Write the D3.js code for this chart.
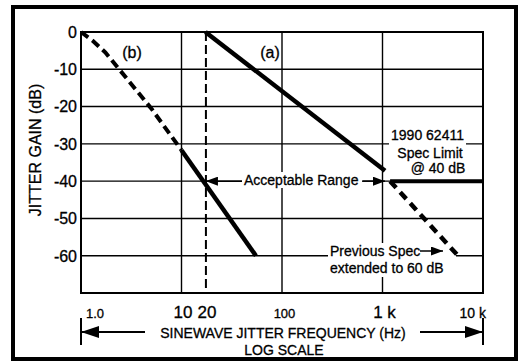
<!DOCTYPE html>
<html>
<head>
<meta charset="utf-8">
<script src="https://cdn.jsdelivr.net/npm/d3@7"></script>
<style>
  html, body { margin: 0; padding: 0; background: #fff; }
  svg { display: block; font-family: "Liberation Sans", Arial, Helvetica, sans-serif; }
  svg text { fill: #000; stroke: #000; stroke-width: 0.3px; }
</style>
</head>
<body>
<svg id="chart" width="519" height="363"></svg>
<script>
// ---------- data ----------
const yTicks = [0, -10, -20, -30, -40, -50, -60];
const yTickLabels = ["0", "-10", "-20", "-30", "-40", "-50", "-60"];
const xGridFreqs = [10, 100, 1000];
const xTickFreqs = [1, 10, 17.5, 100, 1000, 10000];
const xTickLabels = ["1.0", "10", "20", "100", "1 k", "10 k"];
const markerFreq = 17.5;           // dashed vertical marker labelled "20"

// curve (a)
const curveAFreq = [17.3, 1060];
const curveAGain = [0, -37.2];
// 1990 62411 spec limit at -40 dB
const limitFreq = [1190, 10000];
const limitGain = [-40, -40];
// previous spec, extended to 60 dB (dashed)
const prevFreq = [1190, 5640];
const prevGain = [-40, -60];
// curve (b): dashed part then solid part
const curveBDashFreq = [1, 1.3, 1.75, 5.0, 10];
const curveBDashGain = [0, -2.3, -5.5, -20.5, -31.7];
const curveBSolidFreq = [10, 55];
const curveBSolidGain = [-31.7, -60];

// ---------- setup ----------
const svg = d3.select("#chart");
const L = 81, R = 483, T = 32, B = 293;
const x = d3.scaleLog().domain([1, 10000]).range([L, R]);
const y = d3.scaleLinear().domain([0, -70]).range([T, B]);

// outer frame
svg.append("rect").attr("x", 13).attr("y", 7).attr("width", 503).attr("height", 352)
  .attr("fill", "none").attr("stroke", "#000").attr("stroke-width", 4);

// arrow marker defs
const defs = svg.append("defs");
function mk(id, len, half) {
  defs.append("marker").attr("id", id).attr("markerUnits", "userSpaceOnUse")
    .attr("viewBox", `0 ${-half} ${len} ${2*half}`).attr("refX", len).attr("refY", 0)
    .attr("markerWidth", len).attr("markerHeight", 2*half).attr("orient", "auto")
    .append("path").attr("d", `M0,${-half}L${len},0L0,${half}Z`).attr("fill", "#000");
}
mk("arrSmall", 12, 4.5);
mk("arrBig", 18, 6);

// grid
const g = svg.append("g");
g.selectAll(".hg").data(yTicks).join("line")
  .attr("x1", L).attr("x2", R).attr("y1", d => y(d)).attr("y2", d => y(d))
  .attr("stroke", "#000").attr("stroke-width", 1.4);
g.selectAll(".vg").data(xGridFreqs).join("line")
  .attr("x1", d => x(d)).attr("x2", d => x(d)).attr("y1", T).attr("y2", B)
  .attr("stroke", "#000").attr("stroke-width", 1.4);
g.append("rect").attr("x", L).attr("y", T).attr("width", R - L).attr("height", B - T)
  .attr("fill", "none").attr("stroke", "#000").attr("stroke-width", 2);

// white boxes behind annotations
svg.append("rect").attr("x", 389).attr("y", 127).attr("width", 77).attr("height", 50).attr("fill", "#fff");
svg.append("rect").attr("x", 328).attr("y", 243).attr("width", 128).attr("height", 34).attr("fill", "#fff");
svg.append("rect").attr("x", 242).attr("y", 172).attr("width", 121).attr("height", 16).attr("fill", "#fff");

// dashed marker
svg.append("line").attr("x1", x(markerFreq)).attr("x2", x(markerFreq)).attr("y1", T).attr("y2", B - 4)
  .attr("stroke", "#000").attr("stroke-width", 2).attr("stroke-dasharray", "9,4");

const line = d3.line().x(d => x(d[0])).y(d => y(d[1]));
function drawLine(fs, gs, dash, w) {
  const p = svg.append("path").datum(fs.map((f, i) => [f, gs[i]]))
    .attr("d", line).attr("fill", "none").attr("stroke", "#000")
    .attr("stroke-width", w).attr("stroke-linejoin", "round");
  if (dash) p.attr("stroke-dasharray", dash);
  return p;
}
drawLine(curveAFreq, curveAGain, null, 4.5);
drawLine(limitFreq, limitGain, null, 4);
drawLine(prevFreq, prevGain, "9,6", 4.5);
drawLine(curveBDashFreq, curveBDashGain, "9,5", 4);
drawLine(curveBSolidFreq, curveBSolidGain, null, 4.5);

// y tick labels
svg.selectAll(".yl").data(yTicks).join("text")
  .attr("x", 77).attr("y", d => y(d) + 5.8).attr("text-anchor", "end")
  .attr("font-size", 16).text((d, i) => yTickLabels[i]);

// y title
svg.append("text").attr("transform", "translate(41,150) rotate(-90)")
  .attr("text-anchor", "middle").attr("font-size", 16).text("JITTER GAIN (dB)");

// x tick labels
const xlStyle = [
  {dx: 5, anchor: "start", size: 13},
  {dx: 1.5, anchor: "middle", size: 17},
  {dx: 1, anchor: "middle", size: 17},
  {dx: 2.5, anchor: "middle", size: 13},
  {dx: 2, anchor: "middle", size: 17},
  {dx: 3, anchor: "end", size: 14}
];
svg.selectAll(".xl").data(xTickFreqs).join("text")
  .attr("x", (d, i) => x(d) + xlStyle[i].dx).attr("y", 318)
  .attr("text-anchor", (d, i) => xlStyle[i].anchor)
  .attr("font-size", (d, i) => xlStyle[i].size)
  .text((d, i) => xTickLabels[i]);

// x title & range arrows
svg.append("text").attr("x", 283).attr("y", 338).attr("text-anchor", "middle")
  .attr("font-size", 14).text("SINEWAVE JITTER FREQUENCY (Hz)");
svg.append("text").attr("x", 284).attr("y", 355).attr("text-anchor", "middle")
  .attr("font-size", 14).text("LOG SCALE");
[x(1), x(10000)].forEach(px => {
  svg.append("line").attr("x1", px).attr("x2", px).attr("y1", 318).attr("y2", 345)
    .attr("stroke", "#000").attr("stroke-width", 2);
});
svg.append("line").attr("x1", 145).attr("x2", x(1)).attr("y1", 332).attr("y2", 332)
  .attr("stroke", "#000").attr("stroke-width", 2).attr("marker-end", "url(#arrBig)");
svg.append("line").attr("x1", 420).attr("x2", x(10000)).attr("y1", 332).attr("y2", 332)
  .attr("stroke", "#000").attr("stroke-width", 2).attr("marker-end", "url(#arrBig)");

// curve labels
svg.append("text").attr("x", 132).attr("y", 57.5).attr("text-anchor", "middle").attr("font-size", 16).text("(b)");
svg.append("text").attr("x", 270).attr("y", 57.5).attr("text-anchor", "middle").attr("font-size", 16).text("(a)");

// spec limit annotation
svg.append("text").attr("x", 427.5).attr("y", 140).attr("text-anchor", "middle").attr("font-size", 14).text("1990 62411");
svg.append("text").attr("x", 430).attr("y", 158).attr("text-anchor", "middle").attr("font-size", 14).text("Spec Limit");
svg.append("text").attr("x", 438).attr("y", 173).attr("text-anchor", "middle").attr("font-size", 14).text("@ 40 dB");

// acceptable range
svg.append("text").attr("x", 244).attr("y", 185).attr("font-size", 14).text("Acceptable Range");
svg.append("line").attr("x1", 242).attr("x2", x(markerFreq)).attr("y1", y(-40)).attr("y2", y(-40))
  .attr("stroke", "#000").attr("stroke-width", 1.5).attr("marker-end", "url(#arrSmall)");
svg.append("line").attr("x1", 362).attr("x2", 385).attr("y1", y(-40)).attr("y2", y(-40))
  .attr("stroke", "#000").attr("stroke-width", 1.5).attr("marker-end", "url(#arrSmall)");

// previous spec
svg.append("text").attr("x", 330).attr("y", 256).attr("font-size", 14).text("Previous Spec");
svg.append("line").attr("x1", 420).attr("x2", 443).attr("y1", 251).attr("y2", 251)
  .attr("stroke", "#000").attr("stroke-width", 1.5).attr("marker-end", "url(#arrSmall)");
svg.append("text").attr("x", 330).attr("y", 273).attr("font-size", 14).text("extended to 60 dB");
</script>
</body>
</html>
